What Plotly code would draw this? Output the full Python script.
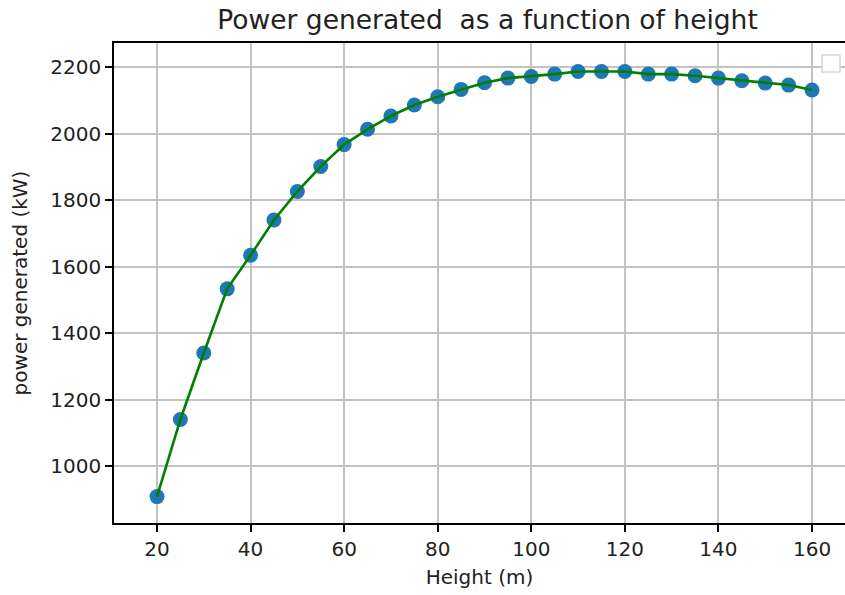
import plotly.graph_objects as go

heights = [20, 25, 30, 35, 40, 45, 50, 55, 60, 65, 70, 75, 80, 85, 90, 95, 100,
           105, 110, 115, 120, 125, 130, 135, 140, 145, 150, 155, 160]
power = [908, 1140, 1340, 1533, 1634, 1740, 1826, 1901, 1967, 2013, 2053, 2086,
         2111, 2133, 2153, 2167, 2172, 2179, 2187, 2187, 2187, 2179, 2179, 2174,
         2167, 2159, 2152, 2146, 2131]

x_ticks = [20, 40, 60, 80, 100, 120, 140, 160]
y_ticks = [1000, 1200, 1400, 1600, 1800, 2000, 2200]

FONT = "DejaVu Sans"

fig = go.Figure()
fig.add_trace(go.Scatter(
    x=heights, y=power, mode="markers",
    marker=dict(color="#1f77b4", size=15, line=dict(width=0)),
    showlegend=False,
))
fig.add_trace(go.Scatter(
    x=heights, y=power, mode="lines",
    line=dict(color="green", width=2.6),
    showlegend=False,
))

axis_common = dict(
    showgrid=True, gridcolor="#c2c2c2", gridwidth=1.7,
    showline=True, linecolor="black", linewidth=1.6,
    ticks="outside", ticklen=7, tickwidth=1.5, tickcolor="black",
    zeroline=False,
    tickfont=dict(family=FONT, size=20, color="#222222"),
)

fig.update_layout(
    width=845, height=595,
    margin=dict(l=114, r=0, t=43, b=72),
    paper_bgcolor="white", plot_bgcolor="white",
    title=dict(text="Power generated  as a function of height",
               x=0.577, xref="container", xanchor="center",
               y=0.967, yref="container", yanchor="middle",
               font=dict(family=FONT, size=26.5, color="#222222")),
    xaxis=dict(range=[10.81, 167.05], tickvals=x_ticks, mirror=True,
               title=dict(text="Height (m)", standoff=10,
                          font=dict(family=FONT, size=20, color="#222222")),
               **axis_common),
    yaxis=dict(range=[828.5, 2272.6], tickvals=y_ticks,
               title=dict(text="power generated (kW)", standoff=17,
                          font=dict(family=FONT, size=20, color="#222222")),
               **axis_common),
    shapes=[dict(type="rect", xref="paper", yref="paper",
                 x0=0.9685, x1=0.9932, y0=0.9395, y1=0.975,
                 line=dict(color="#d5d5d5", width=1.5), fillcolor="white")],
)

fig.write_html("out.html")
